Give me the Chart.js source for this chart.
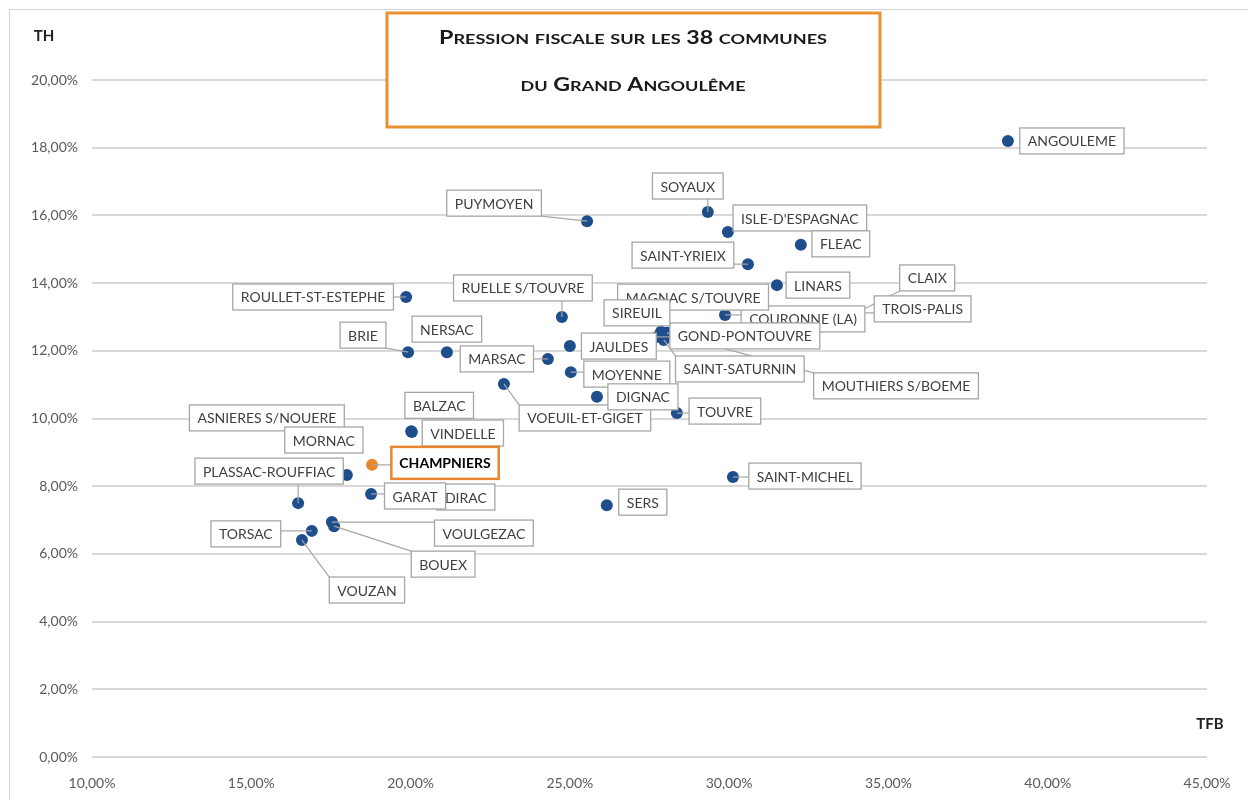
<!DOCTYPE html>
<html>
<head>
<meta charset="utf-8">
<script src="https://cdn.jsdelivr.net/npm/chart.js@4.4.1/dist/chart.umd.min.js"></script>
<style>
  html, body { margin: 0; padding: 0; background: #fff; }
  #wrap { width: 1248px; height: 800px; position: relative; }
</style>
</head>
<body>
<div id="wrap"><canvas id="chart" width="1248" height="800"></canvas></div>
<script>
// données (TFB en x, TH en y, en %)
const communes = [
  'ANGOULEME', 'SOYAUX', 'PUYMOYEN', "ISLE-D'ESPAGNAC", 'FLEAC', 'SAINT-YRIEIX',
  'LINARS', 'CLAIX', 'TROIS-PALIS', 'COURONNE (LA)', 'MAGNAC S/TOUVRE',
  'GOND-PONTOUVRE', 'SIREUIL', 'SAINT-SATURNIN', 'MOUTHIERS S/BOEME',
  'ROULLET-ST-ESTEPHE', 'RUELLE S/TOUVRE', 'BRIE', 'NERSAC', 'MARSAC', 'JAULDES',
  'MOYENNE', 'VOEUIL-ET-GIGET', 'DIGNAC', 'TOUVRE', 'BALZAC', 'VINDELLE',
  'ASNIERES S/NOUERE', 'MORNAC', 'PLASSAC-ROUFFIAC', 'DIRAC', 'GARAT', 'CHAMPNIERS',
  'SAINT-MICHEL', 'SERS', 'TORSAC', 'VOULGEZAC', 'BOUEX', 'VOUZAN'
];
const tfb = [
  38.75, 29.33, 25.54, 29.96, 32.25, 30.59,
  31.50, 33.80, 33.75, 29.87, 30.50,
  27.73, 27.86, 27.95, 28.05,
  19.86, 24.75, 19.92, 21.14, 24.31, 25.00,
  25.03, 22.93, 25.85, 28.36, 20.02, 20.04,
  17.78, 18.00, 16.47, 20.92, 18.76, 18.79,
  30.12, 26.16, 16.90, 17.53, 17.60, 16.59
];
const th = [
  18.20, 16.10, 15.83, 15.51, 15.13, 14.56,
  13.94, 13.03, 13.12, 13.06, 13.35,
  12.41, 12.56, 12.32, 12.53,
  13.59, 13.00, 11.96, 11.96, 11.76, 12.14,
  11.37, 11.02, 10.64, 10.16, 9.62, 9.60,
  9.22, 8.33, 7.50, 7.68, 7.77, 8.63,
  8.27, 7.44, 6.68, 6.94, 6.82, 6.41
];
const highlighted = 'CHAMPNIERS';
const xTickValues = [10, 15, 20, 25, 30, 35, 40, 45];
const yTickValues = [0, 2, 4, 6, 8, 10, 12, 14, 16, 18, 20];
const titleLines = ['Pression fiscale sur les 38 communes', 'du Grand Angoulême'];

// placement des étiquettes : centre de la boîte par rapport au point (px),
// troisième valeur false = pas de ligne de repère
const labelOffsets = {
  'ANGOULEME': [64, 0], 'SOYAUX': [-20, -26], 'PUYMOYEN': [-93, -18],
  "ISLE-D'ESPAGNAC": [72, -14], 'FLEAC': [40, -1], 'SAINT-YRIEIX': [-65, -9],
  'LINARS': [41, 0], 'CLAIX': [77, -38], 'TROIS-PALIS': [74, -4],
  'COURONNE (LA)': [78, 4], 'MAGNAC S/TOUVRE': [-52, -8, false],
  'GOND-PONTOUVRE': [88, -1], 'SIREUIL': [-24, -19], 'SAINT-SATURNIN': [76, 29],
  'MOUTHIERS S/BOEME': [229, 53], 'ROULLET-ST-ESTEPHE': [-93, 0],
  'RUELLE S/TOUVRE': [-39, -29], 'BRIE': [-45, -17], 'NERSAC': [0, -23],
  'MARSAC': [-51, 0], 'JAULDES': [49, 0], 'MOYENNE': [56, 2],
  'VOEUIL-ET-GIGET': [81, 34], 'DIGNAC': [46, 0], 'TOUVRE': [48, -2],
  'BALZAC': [28, -26, false], 'VINDELLE': [51, 1], 'ASNIERES S/NOUERE': [-73, -27, false],
  'MORNAC': [-23, -35, false], 'PLASSAC-ROUFFIAC': [-29, -32], 'DIRAC': [26, 0, false],
  'GARAT': [44, 2], 'CHAMPNIERS': [73, -2], 'SAINT-MICHEL': [72, -1],
  'SERS': [36, -3], 'TORSAC': [-66, 3], 'VOULGEZAC': [152, 11],
  'BOUEX': [109, 38], 'VOUZAN': [65, 50]
};

const BLUE = '#1f4e8c';
const ORANGE = '#e8862e';
const fmtPct = v => v.toFixed(2).replace('.', ',') + '%';

// fond + cadre
const framePlugin = {
  id: 'frame',
  beforeDraw(chart) {
    const { ctx } = chart;
    ctx.save();
    ctx.fillStyle = '#fff';
    ctx.fillRect(0, 0, chart.width, chart.height);
    ctx.strokeStyle = '#d4d4d4';
    ctx.lineWidth = 1;
    ctx.strokeRect(9.5, 9.5, 1400, 1000);
    ctx.restore();
  }
};

// étiquettes de données avec lignes de repère
const labelPlugin = {
  id: 'communeLabels',
  afterDatasetsDraw(chart) {
    const { ctx } = chart;
    const meta = chart.getDatasetMeta(0);
    ctx.save();
    const boxes = meta.data.map((pt, i) => {
      const name = communes[i];
      const hl = name === highlighted;
      ctx.font = (hl ? 'bold ' : '') + '14px Lato';
      const [dx, dy, leader] = labelOffsets[name] || [40, 0];
      const w = ctx.measureText(name).width + 16;
      const h = hl ? 32 : 26;
      return { name, hl, leader: leader !== false, px: pt.x, py: pt.y,
               x: pt.x + dx - w / 2, y: pt.y + dy - h / 2, w, h };
    });
    // lignes de repère
    ctx.strokeStyle = '#a6a6a6';
    ctx.lineWidth = 1.2;
    boxes.forEach(b => {
      if (!b.leader) return;
      const ex = Math.min(Math.max(b.px, b.x), b.x + b.w);
      const ey = Math.min(Math.max(b.py, b.y), b.y + b.h);
      if (Math.hypot(ex - b.px, ey - b.py) > 12) {
        ctx.beginPath();
        ctx.moveTo(b.px, b.py);
        ctx.lineTo(ex, ey);
        ctx.stroke();
      }
    });
    // boîtes
    ctx.textAlign = 'center';
    ctx.textBaseline = 'middle';
    boxes.forEach(b => {
      ctx.fillStyle = '#fff';
      ctx.fillRect(b.x, b.y, b.w, b.h);
      ctx.strokeStyle = b.hl ? ORANGE : '#a6a6a6';
      ctx.lineWidth = b.hl ? 2.5 : 1.3;
      ctx.strokeRect(b.x, b.y, b.w, b.h);
      ctx.font = (b.hl ? 'bold ' : '') + '14px Lato';
      ctx.fillStyle = b.hl ? '#000' : '#404040';
      ctx.fillText(b.name, b.x + b.w / 2, b.y + b.h / 2 + 1);
    });
    ctx.restore();
  }
};

// petites capitales dessinées à la main
function drawSmallCaps(ctx, text, cx, baseline, big, small, targetW) {
  const runs = [];
  for (const ch of text) {
    const size = ch !== ch.toUpperCase() ? small : big;
    const last = runs[runs.length - 1];
    if (last && last.size === size) last.t += ch.toUpperCase();
    else runs.push({ t: ch.toUpperCase(), size });
  }
  let total = 0;
  runs.forEach(r => {
    ctx.font = 'bold ' + r.size + 'px Lato';
    r.w = ctx.measureText(r.t).width;
    total += r.w;
  });
  const sx = targetW / total;
  ctx.save();
  ctx.translate(cx - targetW / 2, baseline);
  ctx.scale(sx, 1);
  ctx.textAlign = 'left';
  ctx.textBaseline = 'alphabetic';
  let x = 0;
  runs.forEach(r => {
    ctx.font = 'bold ' + r.size + 'px Lato';
    ctx.fillText(r.t, x, 0);
    x += r.w;
  });
  ctx.restore();
}

// titre encadré et titres d'axes
const titlePlugin = {
  id: 'titleBox',
  afterDraw(chart) {
    const { ctx } = chart;
    ctx.save();
    ctx.fillStyle = '#fff';
    ctx.fillRect(387, 13, 493, 114);
    ctx.strokeStyle = '#e8912f';
    ctx.lineWidth = 3;
    ctx.strokeRect(387, 13, 493, 114);
    ctx.fillStyle = '#1a1a1a';
    drawSmallCaps(ctx, titleLines[0], 633, 44, 18, 14, 388);
    drawSmallCaps(ctx, titleLines[1], 633, 91, 18, 14, 225);

    ctx.font = 'bold 15px Lato';
    ctx.fillStyle = '#222';
    ctx.textAlign = 'center';
    ctx.textBaseline = 'middle';
    ctx.fillText('TH', 44, 36);
    ctx.fillText('TFB', 1210, 724);
    ctx.restore();
  }
};

const points = communes.map((c, i) => ({ x: tfb[i], y: th[i] }));
const colors = communes.map(c => c === highlighted ? ORANGE : BLUE);

new Chart(document.getElementById('chart'), {
  type: 'scatter',
  data: {
    datasets: [{
      data: points,
      pointRadius: 6,
      pointHoverRadius: 6,
      pointBackgroundColor: colors,
      pointBorderColor: colors,
      pointBorderWidth: 0
    }]
  },
  options: {
    responsive: false,
    animation: false,
    events: [],
    layout: { padding: { top: 80, right: 41, bottom: 0, left: 0 } },
    plugins: { legend: { display: false }, tooltip: { enabled: false } },
    scales: {
      x: {
        type: 'linear',
        min: xTickValues[0],
        max: xTickValues[xTickValues.length - 1],
        afterBuildTicks: s => { s.ticks = xTickValues.map(v => ({ value: v })); },
        afterFit: s => { s.height = 43; },
        grid: { display: false },
        border: { display: false },
        ticks: {
          padding: 10,
          maxRotation: 0,
          color: '#595959',
          font: { family: 'Lato', size: 14 },
          callback: v => fmtPct(v)
        }
      },
      y: {
        min: yTickValues[0],
        max: yTickValues[yTickValues.length - 1],
        afterBuildTicks: s => { s.ticks = yTickValues.map(v => ({ value: v })); },
        afterFit: s => { s.width = 92; },
        grid: { color: '#d9d9d9', lineWidth: 2, drawTicks: false },
        border: { display: false },
        ticks: {
          padding: 14,
          color: '#595959',
          font: { family: 'Lato', size: 14 },
          callback: v => fmtPct(v)
        }
      }
    }
  },
  plugins: [framePlugin, labelPlugin, titlePlugin]
});
</script>
</body>
</html>
